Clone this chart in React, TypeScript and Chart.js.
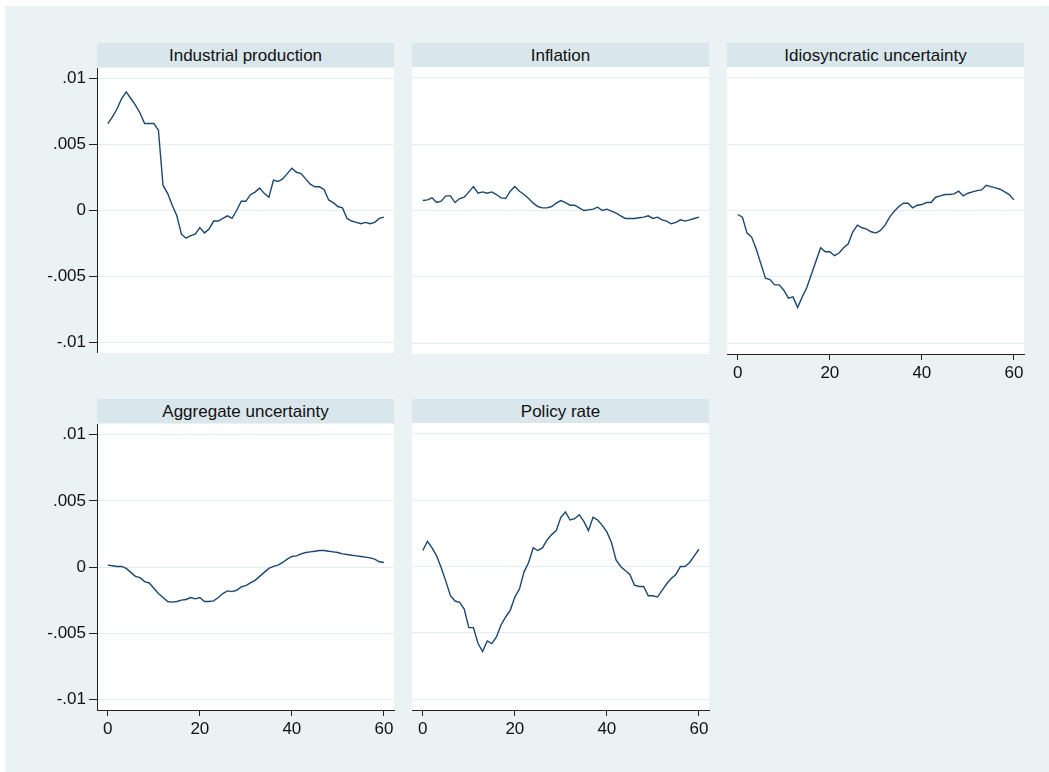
import { useEffect, useRef } from "react";
import { Chart, registerables } from "chart.js";

Chart.register(...registerables);

// Impulse responses over horizons 0..60
const horizons = [
  0, 1, 2, 3, 4, 5, 6, 7, 8, 9, 10, 11, 12, 13, 14, 15, 16, 17, 18, 19, 20,
  21, 22, 23, 24, 25, 26, 27, 28, 29, 30, 31, 32, 33, 34, 35, 36, 37, 38, 39, 40,
  41, 42, 43, 44, 45, 46, 47, 48, 49, 50, 51, 52, 53, 54, 55, 56, 57, 58, 59, 60,
];

const industrialProduction = [
  0.0066, 0.0071, 0.0077, 0.0085, 0.009, 0.0085, 0.008, 0.0074, 0.0066, 0.0066, 0.0066,
  0.0061, 0.0019, 0.0013, 0.0004, -0.0004, -0.0018, -0.0021, -0.0019, -0.0018, -0.0013,
  -0.0017, -0.0014, -0.0008, -0.0008, -0.0006, -0.0004, -0.0006, 0.0, 0.0007, 0.0007,
  0.0012, 0.0014, 0.0017, 0.0013, 0.001, 0.0023, 0.0022, 0.0024, 0.0028, 0.0032,
  0.0029, 0.0028, 0.0024, 0.002, 0.0018, 0.0018, 0.0016, 0.0008, 0.0006, 0.0003,
  0.0002, -0.0006, -0.0008, -0.0009, -0.001, -0.0009, -0.001, -0.0009, -0.0006, -0.0005,
];

const inflation = [
  0.00075, 0.0008, 0.00095, 0.0006, 0.0007, 0.0011, 0.0011, 0.0006, 0.0009, 0.001, 0.0014,
  0.0018, 0.0013, 0.0014, 0.0013, 0.0014, 0.0012, 0.00095, 0.0009, 0.00145, 0.0018,
  0.00145, 0.0012, 0.0009, 0.00055, 0.0003, 0.0002, 0.0002, 0.0003, 0.00055, 0.00075,
  0.0006, 0.0004, 0.0004, 0.0002, 0.0, 0.00005, 0.0001, 0.00025, 0.0, 0.0001,
  -0.00005, -0.0002, -0.0004, -0.0006, -0.0006, -0.0006, -0.00055, -0.0005, -0.0004, -0.0006,
  -0.0005, -0.0007, -0.0008, -0.001, -0.0009, -0.0007, -0.0008, -0.0007, -0.0006, -0.0005,
];

const idiosyncraticUncertainty = [
  -0.0003, -0.0005, -0.0017, -0.002, -0.0029, -0.004, -0.0051, -0.0052, -0.0056, -0.0056, -0.006,
  -0.0066, -0.0065, -0.0073, -0.0065, -0.0058, -0.0048, -0.0038, -0.0028, -0.0031, -0.0031,
  -0.0034, -0.0032, -0.0028, -0.0025, -0.0016, -0.0011, -0.0013, -0.0014, -0.0016, -0.0017,
  -0.0015, -0.0011, -0.0005, -0.00005, 0.0003, 0.00055, 0.00055, 0.0002, 0.0004, 0.00045,
  0.0006, 0.0006, 0.001, 0.0011, 0.0012, 0.0012, 0.00125, 0.00145, 0.0011, 0.0013,
  0.0014, 0.0015, 0.00155, 0.0019, 0.0018, 0.0017, 0.0016, 0.0014, 0.0012, 0.0008,
];

const aggregateUncertainty = [
  0.00015, 0.0001, 0.00005, 0.00005, -0.0001, -0.0004, -0.0007, -0.0008, -0.0011, -0.0012, -0.0016,
  -0.002, -0.0023, -0.0026, -0.00265, -0.0026, -0.0025, -0.00245, -0.0023, -0.0024, -0.0023,
  -0.0026, -0.0026, -0.00255, -0.0023, -0.002, -0.0018, -0.00185, -0.00175, -0.0015, -0.0014,
  -0.0012, -0.001, -0.0007, -0.0004, -0.0001, 0.00005, 0.00015, 0.00035, 0.0006, 0.0008,
  0.00085, 0.001, 0.0011, 0.00115, 0.0012, 0.00125, 0.00125, 0.0012, 0.00115, 0.0011,
  0.001, 0.00095, 0.0009, 0.00085, 0.0008, 0.00075, 0.0007, 0.0006, 0.0004, 0.00035,
];

const policyRate = [
  0.0012, 0.0019, 0.0014, 0.0008, -0.0001, -0.0011, -0.0022, -0.0026, -0.0027, -0.0032, -0.0046,
  -0.0046, -0.0058, -0.0064, -0.0056, -0.0058, -0.0053, -0.0044, -0.0038, -0.0033, -0.0023,
  -0.0017, -0.0004, 0.0003, 0.0014, 0.0012, 0.0014, 0.002, 0.0024, 0.0027, 0.0037,
  0.0041, 0.0035, 0.0036, 0.0039, 0.0034, 0.0027, 0.0037, 0.0035, 0.0031, 0.0026,
  0.0018, 0.0005, 0.0, -0.0003, -0.0006, -0.0014, -0.0015, -0.0015, -0.0022, -0.0022,
  -0.0023, -0.0018, -0.0013, -0.0009, -0.0006, 0.0, 0.0, 0.0003, 0.0008, 0.0013,
];

const yTicks = [-0.01, -0.005, 0, 0.005, 0.01];
const yTickLabels = ["-.01", "-.005", "0", ".005", ".01"];
const xTicks = [0, 20, 40, 60];

const FONT = '"Liberation Sans", Arial, Helvetica, sans-serif';
const PAGE_BG = "#EAF2F3";
const STRIP_BG = "#D9E6EB";
const GRID = "#E4EDEF";
const LINE = "#1A476F";
const AXIS = "#222222";

const PLOT_W = 297;
const PLOT_H = 287;
const STRIP_H = 24;
const PAD = 12;

type PanelProps = {
  title: string;
  values: number[];
  left: number;
  top: number;
  showX: boolean;
  showY: boolean;
};

const plotBackground = {
  id: "plotBackground",
  beforeDraw(chart: any) {
    const { ctx, chartArea } = chart;
    ctx.save();
    ctx.fillStyle = "#FFFFFF";
    ctx.fillRect(chartArea.left, chartArea.top, chartArea.right - chartArea.left, chartArea.bottom - chartArea.top);
    ctx.restore();
  },
};

function Panel({ title, values, left, top, showX, showY }: PanelProps) {
  const ref = useRef<HTMLCanvasElement>(null);
  const yw = showY ? 60 : 0;
  const xh = showX ? 30 : 0;
  const cw = PLOT_W + 2 * PAD + yw;
  const ch = PLOT_H + 2 * PAD + xh;

  useEffect(() => {
    if (!ref.current) return;
    const chart = new Chart(ref.current, {
      type: "line",
      data: {
        datasets: [
          {
            data: horizons.map((h, i) => ({ x: h, y: values[i] })),
            borderColor: LINE,
            borderWidth: 1.4,
            pointRadius: 0,
            tension: 0,
            fill: false,
          },
        ],
      },
      options: {
        animation: false,
        responsive: false,
        devicePixelRatio: 1,
        layout: { padding: PAD },
        plugins: { legend: { display: false }, tooltip: { enabled: false }, title: { display: false } },
        scales: {
          x: {
            type: "linear",
            display: showX,
            min: -2.35,
            max: 62.2,
            afterBuildTicks: (scale: any) => {
              scale.ticks = xTicks.map((v) => ({ value: v }));
            },
            afterFit: (scale: any) => {
              scale.height = xh;
            },
            ticks: {
              autoSkip: false,
              maxRotation: 0,
              padding: 3,
              color: "#111",
              font: { family: FONT, size: 17 },
            },
            grid: { drawOnChartArea: false, drawTicks: true, tickLength: 6, tickColor: AXIS, tickWidth: 1 },
            border: { display: true, color: AXIS, width: 1 },
          },
          y: {
            type: "linear",
            min: -0.0108,
            max: 0.0108,
            afterBuildTicks: (scale: any) => {
              scale.ticks = yTicks.map((v) => ({ value: v }));
            },
            afterFit: (scale: any) => {
              scale.width = yw;
            },
            ticks: {
              display: showY,
              padding: 3,
              color: "#111",
              font: { family: FONT, size: 17 },
              callback: (_v: any, i: number) => yTickLabels[i],
            },
            grid: {
              color: GRID,
              lineWidth: 1,
              drawTicks: showY,
              tickLength: 8,
              tickColor: AXIS,
              tickWidth: 1,
            },
            border: { display: showY, color: AXIS, width: 1 },
          },
        },
      },
      plugins: [plotBackground],
    } as any);
    return () => chart.destroy();
  }, []);

  return (
    <>
      <div
        style={{
          position: "absolute",
          left,
          top: top - STRIP_H,
          width: PLOT_W,
          height: STRIP_H,
          boxSizing: "border-box",
          paddingTop: 2,
          background: STRIP_BG,
          display: "flex",
          alignItems: "center",
          justifyContent: "center",
          fontFamily: FONT,
          fontSize: 17,
          color: "#111",
          whiteSpace: "nowrap",
        }}
      >
        {title}
      </div>
      <canvas
        ref={ref}
        width={cw}
        height={ch}
        style={{ position: "absolute", left: left - PAD - yw, top: top - PAD, width: cw, height: ch }}
      />
    </>
  );
}

const colLefts = [97, 412, 727];
const rowTops = [67, 423];

export default function App() {
  return (
    <div style={{ position: "absolute", left: 0, top: 0, width: 1049, height: 772, background: "#FFFFFF", overflow: "hidden" }}>
      <div style={{ position: "absolute", left: 5, top: 6, width: 1044, height: 766, background: PAGE_BG }} />
      <Panel title="Industrial production" values={industrialProduction} left={colLefts[0]} top={rowTops[0]} showX={false} showY={true} />
      <Panel title="Inflation" values={inflation} left={colLefts[1]} top={rowTops[0]} showX={false} showY={false} />
      <Panel title="Idiosyncratic uncertainty" values={idiosyncraticUncertainty} left={colLefts[2]} top={rowTops[0]} showX={true} showY={false} />
      <Panel title="Aggregate uncertainty" values={aggregateUncertainty} left={colLefts[0]} top={rowTops[1]} showX={true} showY={true} />
      <Panel title="Policy rate" values={policyRate} left={colLefts[1]} top={rowTops[1]} showX={true} showY={false} />
    </div>
  );
}
